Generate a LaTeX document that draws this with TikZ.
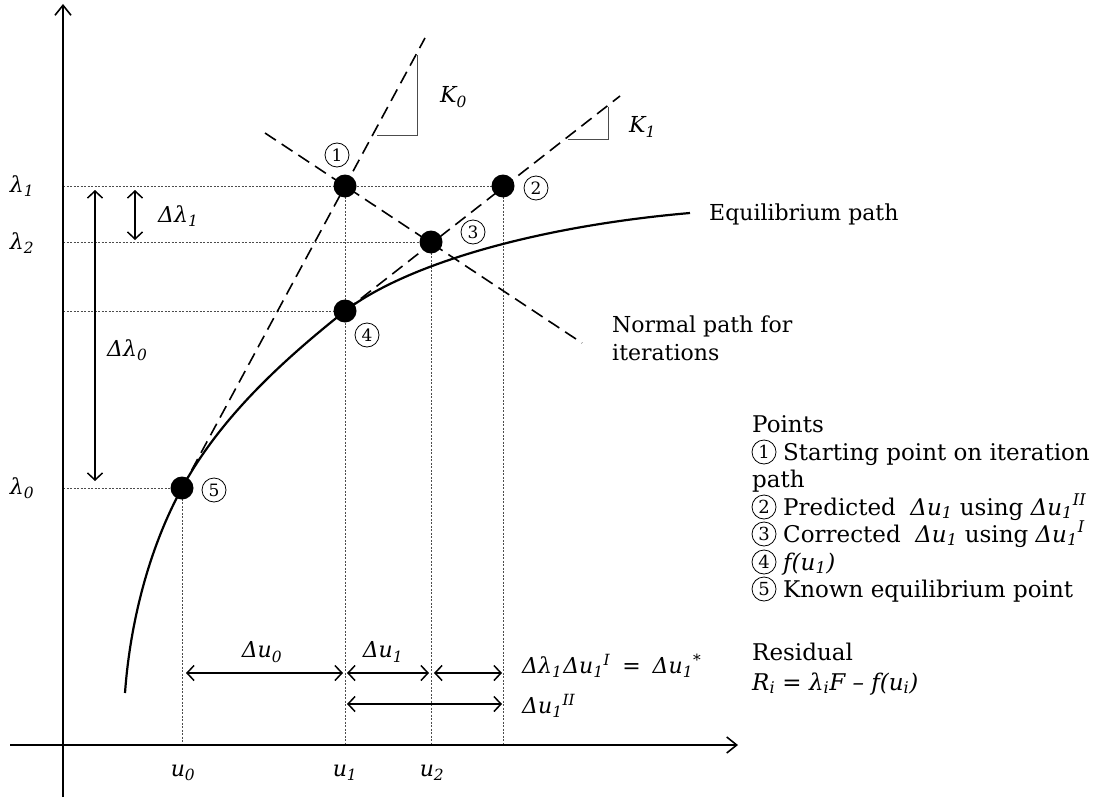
\documentclass[tikz,border=0pt]{standalone}
\usepackage{fontspec}
\setmainfont{DejaVu Serif}
\usetikzlibrary{arrows.meta}
\newcommand\sub[1]{\textsubscript{#1}}
\newcommand\sups[1]{\textsuperscript{#1}}
\begin{document}
\begin{tikzpicture}[x=1pt,y=-1pt,font=\fontsize{22}{28}\selectfont,
  axis/.style={line width=2pt,-{Straight Barb[length=10pt,width=16pt,line width=1.6pt]}},
  guide/.style={line width=0.9pt,dash pattern=on 2pt off 1.5pt,black!70},
  dashline/.style={line width=1.6pt,dash pattern=on 13pt off 7pt},
  curve/.style={line width=2.2pt},
  tri/.style={line width=1pt,black!70},
  dim/.style={line width=1.5pt,{Straight Barb[length=7pt,width=15pt]}-{Straight Barb[length=7pt,width=15pt]}},
  dot/.style={circle,fill=black,inner sep=0pt,minimum size=23pt},
  cnum/.style={circle,draw,line width=0.8pt,inner sep=0pt,minimum size=24pt,font=\fontsize{17}{17}\selectfont},
  lcnum/.style={cnum,minimum size=24pt,font=\fontsize{18}{18}\selectfont},
  lbl/.style={inner sep=0pt},
  leg/.style={inner sep=0pt,anchor=base west,font=\fontsize{23}{28}\selectfont}]
\useasboundingbox (0,0) rectangle (1099,797);
% named coordinates
\coordinate (c1) at (345,186);
\coordinate (c2) at (503,186);
\coordinate (c3) at (431,242);
\coordinate (c4) at (345,311);
\coordinate (c5) at (182,488);
\coordinate (yb) at (63,797);
\coordinate (yt) at (63,4);
\coordinate (xl) at (10,745);
\coordinate (xr) at (738,745);
% guides
\coordinate (h1) at (63,186);
\coordinate (h2) at (63,242);
\coordinate (h4) at (63,311);
\coordinate (h5) at (63,488);
\coordinate (v5) at (182,745);
\coordinate (v1) at (345,745);
\coordinate (v3) at (431,745);
\coordinate (v2) at (503,745);
\draw[guide] (h1) -- (c2);
\draw[guide] (h2) -- (c3);
\draw[guide] (h4) -- (c4);
\draw[guide] (h5) -- (c5);
\draw[guide] (c5) -- (v5);
\draw[guide] (c1) -- (v1);
\draw[guide] (c3) -- (v3);
\draw[guide] (c2) -- (v2);
% axes
\draw[axis] (yb) -- (yt);
\draw[axis] (xl) -- (xr);
% dashed lines
\coordinate (k0e) at (425,38);
\coordinate (k1e) at (620,96);
\coordinate (ns) at (265,133);
\coordinate (ne) at (582,343);
\draw[dashline] (c5) -- (k0e);
\draw[dashline] (c4) -- (k1e);
\draw[dashline] (ns) -- (ne);
% slope triangles
\coordinate (t0a) at (417,55);
\coordinate (t0b) at (417,135);
\coordinate (t0c) at (377,135);
\draw[tri] (t0a) -- (t0b) -- (t0c);
\coordinate (t1a) at (608,107);
\coordinate (t1b) at (608,139);
\coordinate (t1c) at (568,139);
\draw[tri] (t1a) -- (t1b) -- (t1c);
\node[lbl,anchor=west] (K0) at (440,97) {\itshape K\sub{0}};
\node[lbl,anchor=west] (K1) at (629,127) {\itshape K\sub{1}};
% equilibrium curve
\coordinate (cs) at (125,693);
\coordinate (ce) at (690,213);
\draw[curve] (cs) .. controls (130,623) and (149,548) .. (c5)
  .. controls (220,418) and (282,361) .. (c4)
  .. controls (408,263) and (540,226) .. (ce);
% points
\node[dot] (p1) at (c1) {};
\node[dot] (p2) at (c2) {};
\node[dot] (p3) at (c3) {};
\node[dot] (p4) at (c4) {};
\node[dot] (p5) at (c5) {};
\node[cnum] (n1) at (337,155) {1};
\node[cnum] (n2) at (536,188) {2};
\node[cnum] (n3) at (473,232) {3};
\node[cnum] (n4) at (367,335) {4};
\node[cnum] (n5) at (214,490) {5};
% lambda labels
\node[lbl] (l1) at (22,186) {\itshape λ\sub{1}};
\node[lbl] (l2) at (22,243) {\itshape λ\sub{2}};
\node[lbl] (l0) at (22,488) {\itshape λ\sub{0}};
% vertical dims
\coordinate (d1a) at (135,190);
\coordinate (d1b) at (135,240);
\coordinate (d0a) at (95,190);
\coordinate (d0b) at (95,481);
\draw[dim] (d1a) -- (d1b);
\draw[dim] (d0a) -- (d0b);
\node[lbl,anchor=west] (dl1) at (158,216) {\itshape Δλ\sub{1}};
\node[lbl,anchor=west] (dl0) at (107,350) {\itshape Δλ\sub{0}};
% horizontal dims
\coordinate (a1) at (186,673);
\coordinate (a2) at (343,673);
\coordinate (a3) at (347,673);
\coordinate (a4) at (429,673);
\coordinate (a5) at (434,673);
\coordinate (a6) at (502,673);
\coordinate (b1) at (347,704);
\coordinate (b2) at (502,704);
\draw[dim] (a1) -- (a2);
\draw[dim] (a3) -- (a4);
\draw[dim] (a5) -- (a6);
\draw[dim] (b1) -- (b2);
\node[lbl] (du0) at (262,652) {\itshape Δu\sub{0}};
\node[lbl] (du1) at (383,652) {\itshape Δu\sub{1}};
\node[lbl,anchor=west] (dlu) at (522,666) {\itshape Δλ\sub{1}\hspace{1pt}Δu\sub{1}\sups{I}\upshape\hspace{12pt}=\hspace{12pt}\itshape Δu\sub{1}\sups{*}};
\node[lbl,anchor=west] (du2) at (522,706) {\itshape Δu\sub{1}\sups{II}};
% axis labels
\node[lbl] (u0) at (183,773) {\itshape u\sub{0}};
\node[lbl] (u1) at (345,773) {\itshape u\sub{1}};
\node[lbl] (u2) at (432,773) {\itshape u\sub{2}};
% path labels
\node[lbl,anchor=west] (eq) at (709,214) {Equilibrium path};
\node[lbl,anchor=north west,align=left] (np) at (612,316) {Normal path for\\iterations};
% legend
\node[leg] (g0) at (752,432) {Points};
\node[lcnum] (m1) at (764,452) {1};
\node[leg] (g1) at (783,460) {Starting point on iteration};
\node[leg] (g1b) at (752,487) {path};
\node[lcnum] (m2) at (764,507) {2};
\node[leg] (g2) at (783,515) {Predicted \ {\itshape Δu\sub{1}} using {\itshape Δu\sub{1}\sups{II}}};
\node[lcnum] (m3) at (764,534) {3};
\node[leg] (g3) at (783,542) {Corrected \ {\itshape Δu\sub{1}} using {\itshape Δu\sub{1}\sups{I}}};
\node[lcnum] (m4) at (764,562) {4};
\node[leg] (g4) at (783,570) {\itshape f(u\sub{1})};
\node[lcnum] (m5) at (764,589) {5};
\node[leg] (g5) at (783,597) {Known equilibrium point};
\node[leg] (g6) at (752,660) {Residual};
\node[leg] (g7) at (752,690) {\itshape R\sub{i} = λ\sub{i}F – f(u\sub{i})};
\end{tikzpicture}
\end{document}
